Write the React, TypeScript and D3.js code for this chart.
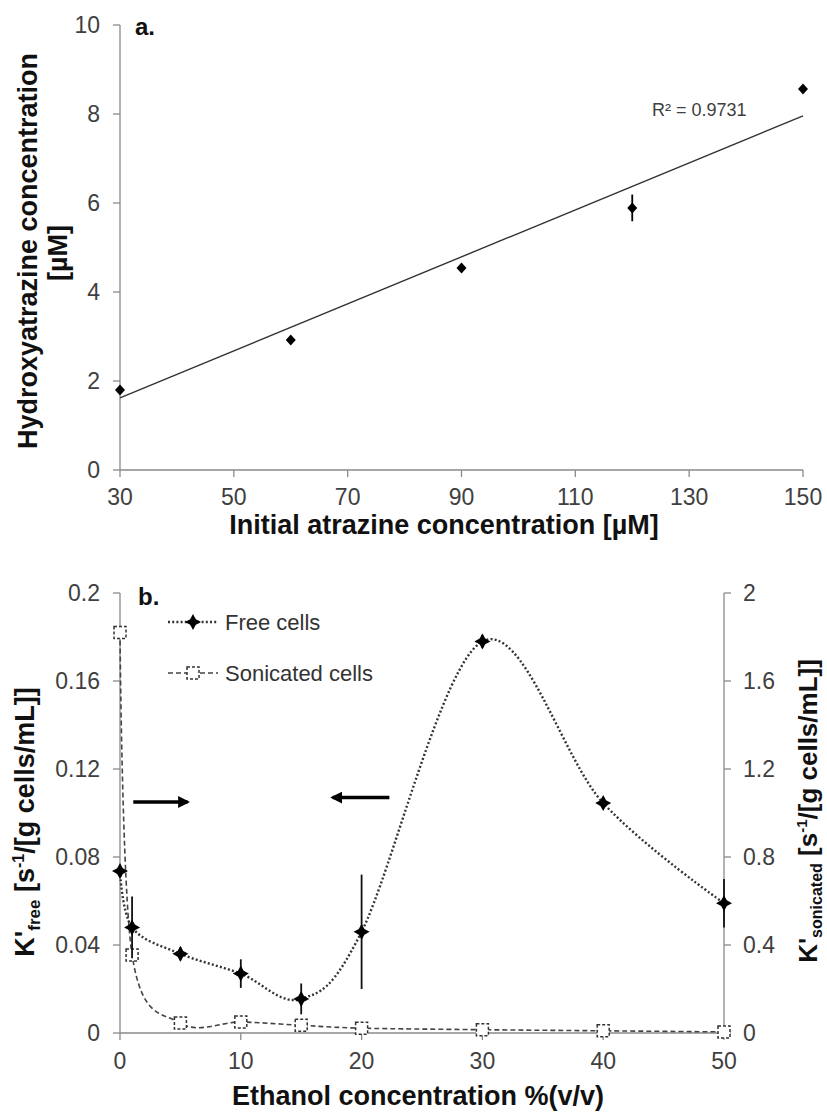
import React from 'react';
import * as d3 from 'd3';

// panel a: hydroxyatrazine vs initial atrazine
const atrazine = [30, 60, 90, 120, 150];
const hydroxy = [1.8, 2.92, 4.54, 5.89, 8.56];
const hydroxyErr = [0, 0, 0, 0.3, 0];
const trendX = [30, 150];
const trendY = [1.62, 7.96];
const aXTicks = [30, 50, 70, 90, 110, 130, 150];
const aYTicks = [0, 2, 4, 6, 8, 10];

// panel b: rate constants vs ethanol
const ethanol = [0, 1, 5, 10, 15, 20, 30, 40, 50];
const kFree = [0.0736, 0.048, 0.036, 0.027, 0.0155, 0.046, 0.178, 0.1045, 0.059];
const kFreeErr = [0.001, 0.014, 0.003, 0.0065, 0.007, 0.026, 0.003, 0.002, 0.011];
const kSonic = [1.82, 0.355, 0.045, 0.05, 0.035, 0.022, 0.015, 0.01, 0.005];
const bXTicks = [0, 10, 20, 30, 40, 50];
const bLeftTicks = [0, 0.04, 0.08, 0.12, 0.16, 0.2];
const bRightTicks = [0, 0.4, 0.8, 1.2, 1.6, 2];
// arrows: [x1, x2, y] in ethanol / left axis units
const arrows = [[1.1, 5.6, 0.105], [22.3, 17.6, 0.107]];

const axisCol = '#8a8a8a';
const tickCol = '#404040';
const font = 'Liberation Sans, Arial, sans-serif';

const star = (r: number, ri: number) => {
  const pts: string[] = [];
  for (let i = 0; i < 8; i++) {
    const a = -Math.PI / 2 + (i * Math.PI) / 4;
    const rr = i % 2 === 0 ? r : ri;
    pts.push((rr * Math.cos(a)).toFixed(2) + ',' + (rr * Math.sin(a)).toFixed(2));
  }
  return 'M' + pts.join('L') + 'Z';
};

const App = () => {
  const ax = d3.scaleLinear().domain([30, 150]).range([120, 803]);
  const ay = d3.scaleLinear().domain([0, 10]).range([470, 25]);

  const bx = d3.scaleLinear().domain([0, 50]).range([120, 724]);
  const byL = d3.scaleLinear().domain([0, 0.2]).range([1033, 593]);
  const byR = d3.scaleLinear().domain([0, 2]).range([1033, 593]);

  const freeLine = d3.line<number>()
    .x((d, i) => bx(ethanol[i]))
    .y(d => byL(d))
    .curve(d3.curveCardinal.tension(0));
  const sonicLine = d3.line<number>()
    .x((d, i) => bx(ethanol[i]))
    .y(d => byR(d))
    .curve(d3.curveCardinal.tension(0));

  const starPath = star(8, 4);

  return (
    <svg width={827} height={1114} style={{ position: 'absolute', left: 0, top: 0, background: '#fff' }}
      fontFamily={font}>
      <defs>
        <marker id="head" viewBox="0 0 10 10" refX="8" refY="5" markerWidth="3.4" markerHeight="3.4" orient="auto">
          <path d="M0,0L10,5L0,10Z" fill="#000" />
        </marker>
      </defs>

      {/* ---------- panel a ---------- */}
      <line x1={ax(30)} x2={ax(30)} y1={ay(0)} y2={ay(10)} stroke={axisCol} strokeWidth={1.3} />
      <line x1={ax(30)} x2={ax(150)} y1={ay(0)} y2={ay(0)} stroke={axisCol} strokeWidth={1.3} />
      {aYTicks.map(t => (
        <g key={'ay' + t}>
          <line x1={ax(30) - 7} x2={ax(30)} y1={ay(t)} y2={ay(t)} stroke={axisCol} strokeWidth={1.3} />
          <text x={100} y={ay(t) + 8} textAnchor="end" fontSize={23} fill={tickCol}>{t}</text>
        </g>
      ))}
      {aXTicks.map(t => (
        <g key={'ax' + t}>
          <line x1={ax(t)} x2={ax(t)} y1={ay(0)} y2={ay(0) + 7} stroke={axisCol} strokeWidth={1.3} />
          <text x={ax(t)} y={505} textAnchor="middle" fontSize={23} fill={tickCol}>{t}</text>
        </g>
      ))}
      <line x1={ax(trendX[0])} y1={ay(trendY[0])} x2={ax(trendX[1])} y2={ay(trendY[1])}
        stroke="#333" strokeWidth={1.4} />
      {atrazine.map((x, i) => (
        <g key={'pa' + i}>
          {hydroxyErr[i] > 0 && (
            <line x1={ax(x)} x2={ax(x)} y1={ay(hydroxy[i] - hydroxyErr[i])} y2={ay(hydroxy[i] + hydroxyErr[i])}
              stroke="#000" strokeWidth={1.8} />
          )}
          <path d="M0,-5.5L5,0L0,5.5L-5,0Z" transform={`translate(${ax(x)},${ay(hydroxy[i])})`} fill="#000" />
        </g>
      ))}
      <text x={652} y={116} fontSize={18} fill="#404040">R² = 0.9731</text>
      <text x={135} y={35} fontSize={24} fontWeight="bold" fill="#111">a.</text>
      <text x={444} y={534} textAnchor="middle" fontSize={27} fontWeight="bold" fill="#111">
        Initial atrazine concentration [µM]
      </text>
      <text transform="translate(37,251) rotate(-90)" textAnchor="middle" fontSize={27} fontWeight="bold" fill="#111">
        Hydroxyatrazine concentration
      </text>
      <text transform="translate(67,253) rotate(-90)" textAnchor="middle" fontSize={27} fontWeight="bold" fill="#111">
        [µM]
      </text>

      {/* ---------- panel b ---------- */}
      <line x1={bx(0)} x2={bx(0)} y1={byL(0)} y2={byL(0.2)} stroke={axisCol} strokeWidth={1.3} />
      <line x1={bx(50)} x2={bx(50)} y1={byR(0)} y2={byR(2)} stroke={axisCol} strokeWidth={1.3} />
      <line x1={bx(0)} x2={bx(50)} y1={byL(0)} y2={byL(0)} stroke={axisCol} strokeWidth={1.3} />
      {bLeftTicks.map(t => (
        <g key={'bl' + t}>
          <line x1={bx(0) - 7} x2={bx(0)} y1={byL(t)} y2={byL(t)} stroke={axisCol} strokeWidth={1.3} />
          <text x={100} y={byL(t) + 8} textAnchor="end" fontSize={23} fill={tickCol}>{t}</text>
        </g>
      ))}
      {bRightTicks.map(t => (
        <g key={'br' + t}>
          <line x1={bx(50)} x2={bx(50) + 7} y1={byR(t)} y2={byR(t)} stroke={axisCol} strokeWidth={1.3} />
          <text x={743} y={byR(t) + 8} textAnchor="start" fontSize={23} fill={tickCol}>{t}</text>
        </g>
      ))}
      {bXTicks.map(t => (
        <g key={'bx' + t}>
          <line x1={bx(t)} x2={bx(t)} y1={byL(0)} y2={byL(0) + 7} stroke={axisCol} strokeWidth={1.3} />
          <text x={bx(t)} y={1069} textAnchor="middle" fontSize={23} fill={tickCol}>{t}</text>
        </g>
      ))}

      <path d={sonicLine(kSonic) || ''} fill="none" stroke="#444" strokeWidth={1.6} strokeDasharray="5,3" />
      <path d={freeLine(kFree) || ''} fill="none" stroke="#333" strokeWidth={2.4} strokeDasharray="2,2.2" />

      {ethanol.map((x, i) => (
        <rect key={'sq' + i} x={bx(x) - 6} y={byR(kSonic[i]) - 6} width={12} height={12}
          fill="#fff" stroke="#333" strokeWidth={1.5} strokeDasharray="3,2" />
      ))}
      {ethanol.map((x, i) => (
        <g key={'fr' + i}>
          <line x1={bx(x)} x2={bx(x)} y1={byL(kFree[i] - kFreeErr[i])} y2={byL(kFree[i] + kFreeErr[i])}
            stroke="#111" strokeWidth={1.8} />
          <path d={starPath} transform={`translate(${bx(x)},${byL(kFree[i])})`} fill="#000" />
        </g>
      ))}

      {arrows.map((a, i) => (
        <line key={'ar' + i} x1={bx(a[0])} x2={bx(a[1])} y1={byL(a[2])} y2={byL(a[2])}
          stroke="#000" strokeWidth={3.5} markerEnd="url(#head)" />
      ))}

      {/* legend */}
      <line x1={168} x2={218} y1={622} y2={622} stroke="#333" strokeWidth={2.4} strokeDasharray="2,2.2" />
      <path d={starPath} transform="translate(193,622)" fill="#000" />
      <text x={225} y={630} fontSize={22} fill="#333">Free cells</text>
      <line x1={168} x2={218} y1={673} y2={673} stroke="#444" strokeWidth={1.6} strokeDasharray="5,3" />
      <rect x={187} y={667} width={12} height={12} fill="#fff" stroke="#333" strokeWidth={1.5} strokeDasharray="3,2" />
      <text x={225} y={681} fontSize={22} fill="#333">Sonicated cells</text>

      <text x={138} y={605} fontSize={24} fontWeight="bold" fill="#111">b.</text>

      <text x={418} y={1105} textAnchor="middle" fontSize={27} fontWeight="bold" fill="#111">
        Ethanol concentration %(v/v)
      </text>
      <text transform="translate(34,822) rotate(-90)" textAnchor="middle" fontSize={27} fontWeight="bold" fill="#111">
        <tspan>K'</tspan>
        <tspan fontSize={17} dy={6}>free</tspan>
        <tspan dy={-6}> [s</tspan>
        <tspan fontSize={16} dy={-10}>-1</tspan>
        <tspan dy={10}>/[g cells/mL]]</tspan>
      </text>
      <text transform="translate(817,811) rotate(-90)" textAnchor="middle" fontSize={26} fontWeight="bold" fill="#111">
        <tspan>K'</tspan>
        <tspan fontSize={16} dy={5}>sonicated</tspan>
        <tspan dy={-5}> [s</tspan>
        <tspan fontSize={15} dy={-10}>-1</tspan>
        <tspan dy={10}>/[g cells/mL]]</tspan>
      </text>
    </svg>
  );
};

export default App;
